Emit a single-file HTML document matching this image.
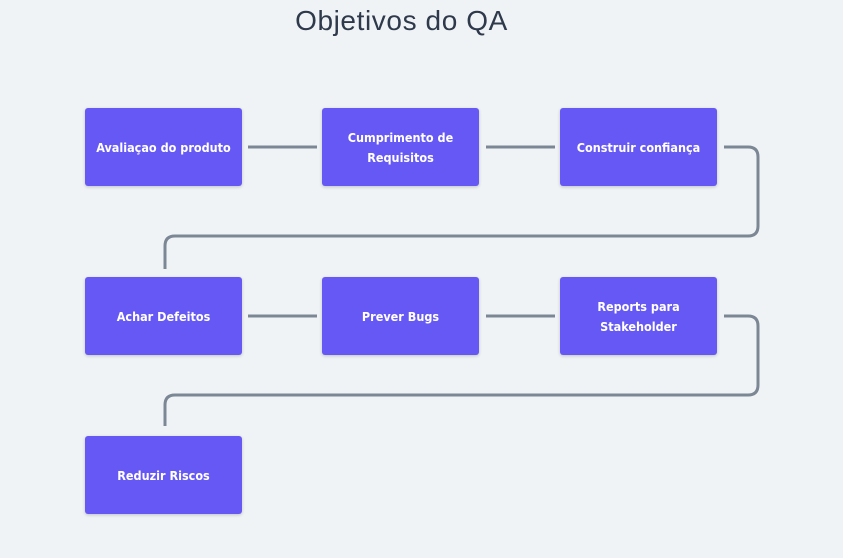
<!DOCTYPE html>
<html><head><style>
body{margin:0;width:843px;height:558px;background:#f0f3f6;position:relative;overflow:hidden;font-family:"DejaVu Sans Condensed","Liberation Sans",sans-serif}
.t{position:absolute;left:0;width:803px;top:5px;text-align:center;font-size:28px;color:#2e3a4b;font-family:"Liberation Sans",sans-serif;letter-spacing:0.6px}
.b{position:absolute;box-sizing:border-box;padding-top:2px;width:157px;height:78px;background:#6658f5;border-radius:3px;box-shadow:0 1px 3px rgba(0,0,0,.2);color:#fff;font-weight:bold;font-size:12.5px;display:flex;align-items:center;justify-content:center;text-align:center;line-height:20px}
svg{position:absolute;left:0;top:0}
</style></head><body>
<div class="t">Objetivos do QA</div>
<svg width="843" height="558"><g fill="none" stroke="#7b8794" stroke-width="3">
<path d="M248 147H317M486 147H555M724 147H748Q758 147 758 157V226Q758 236 748 236H175Q165 236 165 246V269"/>
<path d="M248 316H317M486 316H555M724 316H748Q758 316 758 326V385Q758 395 748 395H175Q165 395 165 405V426"/>
</g></svg>
<div class="b" style="left:85px;top:108px">Avaliaçao do produto</div>
<div class="b" style="left:322px;top:108px">Cumprimento de<br>Requisitos</div>
<div class="b" style="left:560px;top:108px">Construir confiança</div>
<div class="b" style="left:85px;top:277px">Achar Defeitos</div>
<div class="b" style="left:322px;top:277px">Prever Bugs</div>
<div class="b" style="left:560px;top:277px">Reports para<br>Stakeholder</div>
<div class="b" style="left:85px;top:436px">Reduzir Riscos</div>
</body></html>
